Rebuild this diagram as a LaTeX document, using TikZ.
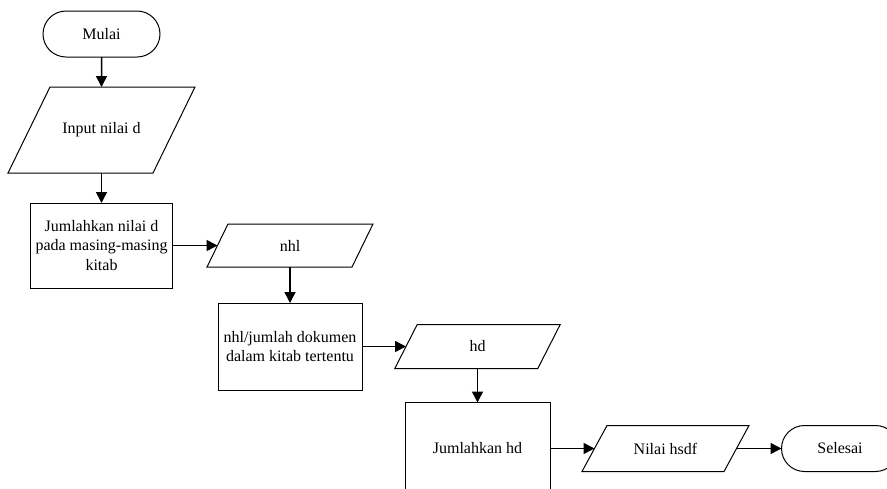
\documentclass[tikz,border=0pt]{standalone}
\usepackage{fontspec}
\setmainfont{Liberation Serif}
\usetikzlibrary{shapes.misc,arrows.meta}

\begin{document}
\begin{tikzpicture}[x=0.5pt, y=-0.5pt, line width=0.5pt,
    font=\fontsize{8}{9.7}\selectfont,
    >={Triangle[length=5.5pt, width=5.5pt]},
    terminal/.style={draw, rounded rectangle, minimum width=58.5pt, minimum height=23pt, inner sep=0pt, outer sep=0pt},
    proses/.style={draw, rectangle, align=center, inner sep=0pt, outer sep=0pt},
    data/.style={rectangle, inner sep=0pt, outer sep=0pt},
    panah/.style={->, line width=0.75pt}]
    \useasboundingbox (0,0) rectangle (887,488);
    % Mulai
    \node[terminal] (mulai) at (101.5,34) {Mulai};
    % Input nilai d
    \node[data, minimum width=72.5pt, minimum height=43pt] (input) at (101.5,130) {Input nilai d};
    % Jumlahkan nilai d
    \node[proses, minimum width=71pt, minimum height=42.5pt] (jumlah) at (101.5,245.5) {Jumlahkan nilai d\\pada masing-masing\\kitab};
    % Output nhl
    \node[data, minimum width=72.5pt, minimum height=21.5pt] (nhl) at (290,245.5) {nhl};
    % nhl dibagi jumlah dokumen
    \node[proses, minimum width=72pt, minimum height=43.5pt] (bagi) at (290,346.5) {nhl/jumlah dokumen\\dalam kitab tertentu};
    % Output hd
    \node[data, minimum width=71.5pt, minimum height=22pt] (hd) at (477.5,346.5) {hd};
    % Jumlahkan hd
    \node[proses, minimum width=72.5pt, minimum height=46pt] (jumlahhd) at (477.5,448.5) {Jumlahkan hd};
    % Output nilai hsdf
    \node[data, minimum width=71pt, minimum height=23pt] (hsdf) at (665.5,448.5) {Nilai hsdf};
    % Selesai
    \node[terminal] (selesai) at (840,448.5) {Selesai};
    % Bentuk jajar genjang untuk data
    \foreach \n/\s in {input/10.5pt, nhl/5.25pt, hd/5.6pt, hsdf/6.25pt}
        \draw ([xshift=\s]\n.north west) -- ([xshift=\s]\n.north east)
            -- ([xshift=-\s]\n.south east) -- ([xshift=-\s]\n.south west) -- cycle;
    % Alur
    \draw[panah] (mulai) -- (input);
    \draw[panah] (input) -- (jumlah);
    \draw[panah] (jumlah) -- (nhl);
    \draw[panah] (nhl) -- (bagi);
    \draw[panah] (bagi) -- (hd);
    \draw[panah] (hd) -- (jumlahhd);
    \draw[panah] (jumlahhd) -- (hsdf);
    \draw[panah] (hsdf) -- (selesai);
\end{tikzpicture}
\end{document}
